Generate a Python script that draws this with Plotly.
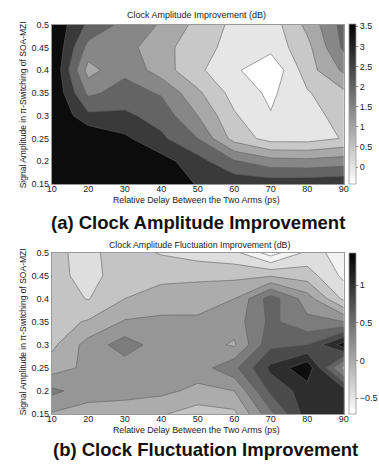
import plotly.graph_objects as go

# ---------------- data ----------------
x_delay = [10, 20, 30, 40, 50, 60, 70, 80, 90]
y_amp = [0.15, 0.20, 0.25, 0.30, 0.35, 0.40, 0.45, 0.50]
y_ticktext = ["0.15", "0.2", "0.25", "0.3", "0.35", "0.4", "0.45", "0.5"]

# Clock amplitude improvement (dB), rows follow y_amp (0.15 -> 0.5)
amp_improvement = [
    [3.55, 3.55, 3.55, 3.50, 2.95, 2.85, 2.80, 2.85, 2.90],
    [3.55, 3.55, 3.50, 3.20, 2.70, 2.05, 1.70, 1.65, 1.75],
    [3.55, 3.50, 3.10, 2.60, 2.00, 0.80, 0.30, 0.30, 0.53],
    [3.55, 2.62, 2.60, 2.30, 1.50, 0.56, 0.03, 0.20, 0.80],
    [3.55, 1.89, 2.20, 1.95, 1.10, 0.30, -0.10, 0.45, 0.90],
    [3.55, 1.30, 1.89, 1.25, 0.60, 0.10, -0.43, 0.77, 1.60],
    [3.55, 1.83, 1.70, 1.15, 0.75, 0.28, 0.17, 0.85, 2.10],
    [3.45, 2.40, 1.85, 1.45, 0.85, 0.38, 0.23, 1.14, 2.20],
]

# Clock amplitude fluctuation improvement (dB)
fluct_improvement = [
    [0.18, 0.10, 0.08, 0.02, -0.10, -0.05, 0.55, 1.10, 1.10],
    [0.45, 0.30, 0.28, 0.25, 0.15, 0.20, 0.85, 1.10, 1.10],
    [0.10, 0.25, 0.30, 0.30, 0.30, 0.55, 1.05, 1.35, 0.30],
    [-0.05, 0.28, 0.50, 0.30, 0.30, 0.17, 0.75, 0.80, 1.30],
    [-0.08, 0.02, 0.22, 0.26, 0.25, 0.30, 0.65, 0.45, 0.40],
    [-0.10, -0.21, 0.00, 0.05, 0.08, 0.20, 0.70, 0.30, -0.25],
    [-0.12, -0.28, -0.08, -0.03, -0.03, -0.05, -0.02, -0.10, -0.45],
    [-0.16, -0.25, -0.10, -0.22, -0.30, -0.35, -0.70, -0.35, -0.45],
]

amp_levels = dict(start=0.0, end=3.0, size=0.5)
fluct_levels = dict(start=-0.6, end=1.2, size=0.2)
amp_crange = (-0.43, 3.55)
fluct_crange = (-0.71, 1.43)
amp_cticks = [0, 0.5, 1, 1.5, 2, 2.5, 3, 3.5]
fluct_cticks = [-0.5, 0, 0.5, 1]

# band greys (lowest band first)
amp_band_grey = [255, 230, 200, 168, 135, 100, 58, 12]
fluct_band_grey = [255, 242, 222, 196, 172, 150, 124, 100, 75, 45, 14]

W, H = 379, 466
FONT = "Liberation Sans, Arial, sans-serif"


def band_scale(greys):
    n = len(greys) - 1
    return [[i / n, f"rgb({g},{g},{g})"] for i, g in enumerate(greys)]


def px(xp):
    return xp / W


def py(yp):
    return 1 - yp / H


fig = go.Figure()

panels = [
    dict(z=amp_improvement, lev=amp_levels, cr=amp_crange, ct=amp_cticks,
         greys=amp_band_grey, top=20, bot=183, xa="x", ya="y"),
    dict(z=fluct_improvement, lev=fluct_levels, cr=fluct_crange, ct=fluct_cticks,
         greys=fluct_band_grey, top=253, bot=418, xa="x2", ya="y2"),
]

for p in panels:
    ytop, ybot = py(p["top"]), py(p["bot"])
    # continuous colorbar (heatmap hidden under the filled contours)
    fig.add_trace(go.Heatmap(
        x=x_delay, y=y_amp, z=p["z"], zmin=p["cr"][0], zmax=p["cr"][1],
        colorscale=[[0, "rgb(255,255,255)"], [1, "rgb(0,0,0)"]],
        xaxis=p["xa"], yaxis=p["ya"], hoverinfo="skip",
        colorbar=dict(x=px(353), xanchor="left", xpad=0, ypad=0,
                      y=(ytop + ybot) / 2, yanchor="middle", len=ytop - ybot,
                      lenmode="fraction", thickness=7,
                      outlinewidth=0.8, outlinecolor="#999",
                      tickvals=p["ct"], ticks="outside", ticklen=2,
                      tickcolor="#888",
                      tickfont=dict(size=9, color="#222", family=FONT)),
    ))
    fig.add_trace(go.Contour(
        x=x_delay, y=y_amp, z=p["z"],
        contours=dict(start=p["lev"]["start"], end=p["lev"]["end"],
                      size=p["lev"]["size"], coloring="fill", showlines=True),
        line=dict(color="rgba(95,95,95,0.85)", width=0.7, smoothing=0),
        colorscale=band_scale(p["greys"]), showscale=False,
        xaxis=p["xa"], yaxis=p["ya"], hoverinfo="skip",
    ))

axis_common = dict(showgrid=True, gridcolor="rgba(175,175,175,0.55)", gridwidth=0.6,
                   layer="above traces", showline=True, mirror=True,
                   linecolor="#9a9a9a", linewidth=1, zeroline=False, ticks="",
                   tickfont=dict(size=9, color="#222", family=FONT))

fig.update_layout(
    width=W, height=H, margin=dict(l=0, r=0, t=0, b=0),
    paper_bgcolor="white", plot_bgcolor="white", showlegend=False,
    font=dict(family=FONT, color="#222"),
    xaxis=dict(domain=[px(48), px(348)], range=[10, 90], tickvals=x_delay,
               anchor="y", ticklabelstandoff=-4, **axis_common),
    yaxis=dict(domain=[py(183), py(20)], range=[0.15, 0.5], tickvals=y_amp,
               ticktext=y_ticktext, anchor="x", **axis_common),
    xaxis2=dict(domain=[px(48), px(348)], range=[10, 90], tickvals=x_delay,
                anchor="y2", ticklabelstandoff=-4, **axis_common),
    yaxis2=dict(domain=[py(418), py(253)], range=[0.15, 0.5], tickvals=y_amp,
                ticktext=y_ticktext, anchor="x2", **axis_common),
)

ann = [
    ("Clock Amplitude Improvement (dB)", 197, 10, 9, 0, False),
    ("Relative Delay Between the Two Arms (ps)", 197, 199.5, 8.8, 0, False),
    ("(a) Clock Amplitude Improvement", 198, 222, 18.5, 0, True),
    ("Clock Amplitude Fluctuation Improvement (dB)", 200, 245, 8.8, 0, False),
    ("Relative Delay Between the Two Arms (ps)", 197, 434.5, 8.8, 0, False),
    ("(b) Clock Fluctuation Improvement", 206, 454, 18.5, 0, True),
    ("Signal Amplitude in π-Switching of SOA-MZI", 18, 102, 8.5, -90, False),
    ("Signal Amplitude in π-Switching of SOA-MZI", 18, 334, 8.5, -90, False),
]
for text, xp_, yp_, size, ang, bold in ann:
    fig.add_annotation(
        text=f"<b>{text}</b>" if bold else text,
        x=px(xp_), y=py(yp_), xref="paper", yref="paper",
        xanchor="center", yanchor="middle", showarrow=False, textangle=ang,
        font=dict(size=size, color="#111" if bold else "#222", family=FONT),
    )

fig.write_html("out.html")
